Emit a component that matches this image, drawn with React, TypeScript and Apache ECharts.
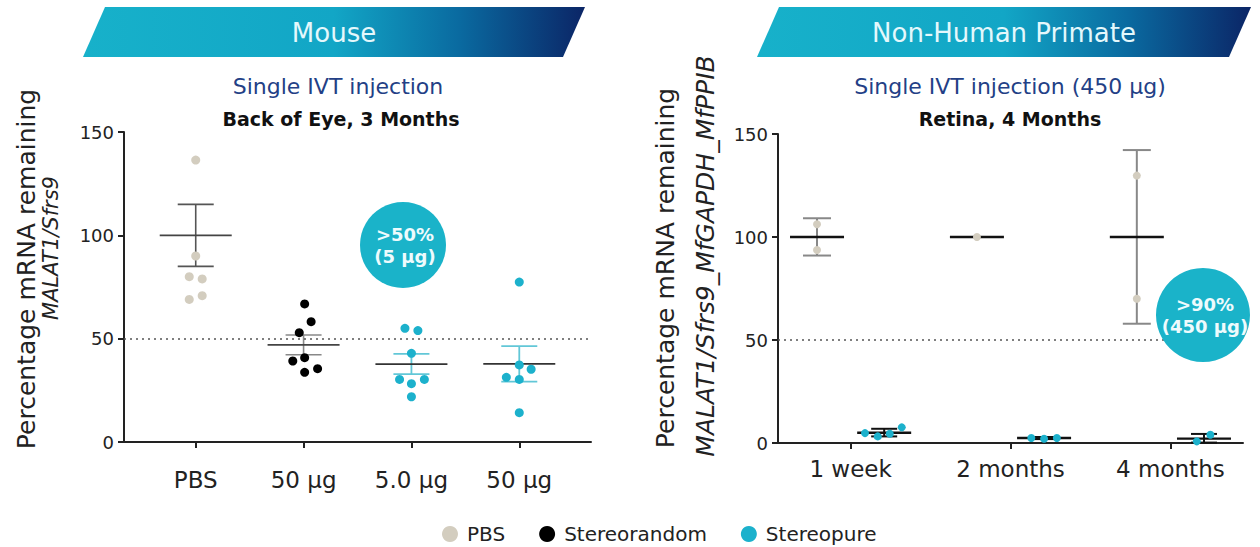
import React, { useEffect, useRef } from "react";
import * as echarts from "echarts";

// ---------- Data ----------
const mouseCategories = ["PBS", "50 μg", "5.0 μg", "50 μg"];
const nhpCategories = ["1 week", "2 months", "4 months"];
const yTicks = [0, 50, 100, 150];
const legendNames = ["PBS", "Stereorandom", "Stereopure"];

// Mouse individual points: [category position (with jitter), % remaining]
const mousePbsPoints = [
  [1.0, 136.4], [1.0, 90.0], [0.94, 80.0], [1.06, 78.9], [0.94, 69.0], [1.06, 70.8],
];
const mouseStereorandomPoints = [
  [2.01, 66.8], [2.07, 58.2], [1.96, 52.9], [1.9, 39.2], [2.01, 40.8], [2.01, 33.7], [2.13, 35.5],
];
const mouseStereopurePoints = [
  [2.94, 55.0], [3.06, 53.9], [3.0, 42.9], [2.89, 30.3], [3.0, 28.2], [3.12, 30.3], [3.0, 21.9],
  [4.0, 77.4], [4.0, 37.3], [4.11, 35.2], [3.88, 31.3], [4.0, 30.3], [4.0, 14.2],
];
// Mouse summaries: [position, mean, mean - SEM, mean + SEM]
const mousePbsSummary = [[1, 100, 85, 115]];
const mouseStereorandomSummary = [[2, 47, 42.2, 51.8]];
const mouseStereopureSummary = [[3, 37.7, 32.8, 42.6], [4, 37.8, 29.2, 46.4]];

// NHP individual points
const nhpPbsPoints = [
  [0.79, 106.2], [0.79, 93.7], [1.79, 100], [2.79, 129.8], [2.79, 70.0],
];
const nhpStereopurePoints = [
  [1.09, 4.8], [1.17, 3.2], [1.245, 4.5], [1.32, 7.6],
  [2.13, 2.4], [2.21, 2.1], [2.29, 2.4],
  [3.165, 0.8], [3.25, 4.0],
];
const nhpPbsSummary = [[0.79, 100, 91, 109.1], [1.79, 100, 100, 100], [2.79, 100, 57.9, 142.2]];
const nhpStereopureSummary = [[1.21, 5.0, 3.2, 6.9], [2.21, 2.4, 1.9, 2.9], [3.21, 2.1, 0.2, 4.4]];

const refLine = 50;

// ---------- Styles ----------
const FONT = "DejaVu Sans";
const C_PBS = "#d3cdbf";
const C_RANDOM = "#000000";
const C_PURE = "#1cb1cc";
const legendColors: Record<string, string> = { PBS: C_PBS, Stereorandom: C_RANDOM, Stereopure: C_PURE };

function summarySeries(
  name: string,
  data: number[][],
  gridIndex: number,
  meanColor: string,
  errColor: string,
  meanHW: number,
  capHW: number,
  meanW: number,
  errW: number,
  extra: any = {}
) {
  return {
    type: "custom",
    name,
    xAxisIndex: gridIndex,
    yAxisIndex: gridIndex,
    data,
    encode: { x: 0, y: [1, 2, 3] },
    z: 2,
    silent: true,
    itemStyle: { color: legendColors[name] },
    renderItem: (params: any, api: any) => {
      const x = api.value(0);
      const m = api.value(1);
      const lo = api.value(2);
      const hi = api.value(3);
      const pm = api.coord([x, m]);
      const plo = api.coord([x, lo]);
      const phi = api.coord([x, hi]);
      const children: any[] = [];
      if (hi !== lo) {
        children.push(
          { type: "line", shape: { x1: pm[0], y1: plo[1], x2: pm[0], y2: phi[1] }, style: { stroke: errColor, lineWidth: errW } },
          { type: "line", shape: { x1: pm[0] - capHW, y1: plo[1], x2: pm[0] + capHW, y2: plo[1] }, style: { stroke: errColor, lineWidth: errW } },
          { type: "line", shape: { x1: pm[0] - capHW, y1: phi[1], x2: pm[0] + capHW, y2: phi[1] }, style: { stroke: errColor, lineWidth: errW } }
        );
      }
      children.push({
        type: "line",
        shape: { x1: pm[0] - meanHW, y1: pm[1], x2: pm[0] + meanHW, y2: pm[1] },
        style: { stroke: meanColor, lineWidth: meanW },
      });
      return { type: "group", children };
    },
    ...extra,
  };
}

function scatterSeries(name: string, data: number[][], gridIndex: number, color: string, size: number) {
  return {
    type: "scatter",
    name,
    xAxisIndex: gridIndex,
    yAxisIndex: gridIndex,
    data,
    symbol: "circle",
    symbolSize: size,
    itemStyle: { color, opacity: 1 },
    z: 5,
    silent: true,
  };
}

const refMarkLine = {
  silent: true,
  symbol: ["none", "none"],
  label: { show: false },
  lineStyle: { type: [2, 4], color: "#555", width: 1.6 },
  data: [{ yAxis: refLine }],
};

function yAxisOpt(gridIndex: number) {
  return {
    type: "value",
    gridIndex,
    min: 0,
    max: 150,
    interval: 50,
    axisLine: { show: true, lineStyle: { color: "#222", width: 2 } },
    axisTick: { show: true, length: 6, lineStyle: { color: "#222", width: 2 } },
    axisLabel: { fontSize: 18, color: "#222", fontFamily: FONT, margin: 10, customValues: yTicks },
    splitLine: { show: false },
  };
}

function xAxisOpt(gridIndex: number, min: number, max: number, cats: string[], margin: number) {
  const ticks = cats.map((_, i) => i + 1);
  return {
    type: "value",
    gridIndex,
    min,
    max,
    axisLine: { show: true, onZero: false, lineStyle: { color: "#222", width: 2 } },
    axisTick: { show: true, length: 6, customValues: ticks, lineStyle: { color: "#222", width: 2 } },
    axisLabel: {
      customValues: ticks,
      formatter: (v: number) => cats[Math.round(v) - 1] ?? "",
      fontSize: 23,
      color: "#222",
      fontFamily: FONT,
      margin,
    },
    splitLine: { show: false },
  };
}

function banner(x0: number, x1: number, slant: number, label: string) {
  return [
    {
      type: "polygon",
      z: 100,
      shape: { points: [[x0 + slant, 7], [x1, 7], [x1 - slant, 57], [x0, 57]] },
      style: {
        fill: new echarts.graphic.LinearGradient(0, 0, 1, 0, [
          { offset: 0, color: "#17b1ca" },
          { offset: 0.5, color: "#12a6c6" },
          { offset: 0.75, color: "#0a6aa0" },
          { offset: 1, color: "#0b2566" },
        ]),
      },
    },
    {
      type: "text",
      z: 101,
      x: (x0 + x1) / 2,
      y: 33,
      style: { text: label, fill: "#e4f8fc", fontSize: 26, fontFamily: FONT, align: "center", verticalAlign: "middle" },
    },
  ];
}

function txt(x: number, y: number, text: string, style: any, rotation = 0) {
  return {
    type: "text",
    z: 101,
    x,
    y,
    rotation,
    style: { text, fontFamily: FONT, align: "center", verticalAlign: "middle", ...style },
  };
}

function bubble(cx: number, cy: number, r: number, l1: string, l2: string) {
  return [
    { type: "circle", z: 100, shape: { cx, cy, r }, style: { fill: "#1ab3c9" } },
    txt(cx + 2, cy - 11, l1, { fill: "#eefbfd", fontSize: 18, fontWeight: "bold" }),
    txt(cx + 2, cy + 11, l2, { fill: "#eefbfd", fontSize: 18, fontWeight: "bold" }),
  ];
}

export default function App() {
  const ref = useRef<HTMLDivElement>(null);
  useEffect(() => {
    if (!ref.current) return;
    const chart = echarts.init(ref.current, undefined, { renderer: "svg" });
    const option: any = {
      animation: false,
      backgroundColor: "#ffffff",
      textStyle: { fontFamily: FONT },
      grid: [
        { left: 124, top: 132, width: 467, height: 310 },
        { left: 778, top: 134, width: 465, height: 309 },
      ],
      xAxis: [
        xAxisOpt(0, 0.335, 4.665, mouseCategories, 26),
        xAxisOpt(1, 0.546, 3.454, nhpCategories, 14),
      ],
      yAxis: [yAxisOpt(0), yAxisOpt(1)],
      legend: {
        data: legendNames.map((n) => ({ name: n, itemStyle: { color: legendColors[n] } })),
        left: 437,
        top: 519,
        icon: "circle",
        itemWidth: 16,
        itemHeight: 16,
        itemGap: 34,
        textStyle: { fontSize: 20, color: "#222", fontFamily: FONT, padding: [0, 0, 0, 4] },
        selectedMode: false,
      },
      series: [
        summarySeries("PBS", mousePbsSummary, 0, "#444", "#555", 36, 18, 1.8, 1.6, { markLine: refMarkLine }),
        summarySeries("Stereorandom", mouseStereorandomSummary, 0, "#444", "#888", 36, 18, 1.8, 1.6),
        summarySeries("Stereopure", mouseStereopureSummary, 0, "#333", "#62c7d7", 36, 18, 1.8, 1.8),
        scatterSeries("PBS", mousePbsPoints, 0, C_PBS, 9),
        scatterSeries("Stereorandom", mouseStereorandomPoints, 0, C_RANDOM, 9),
        scatterSeries("Stereopure", mouseStereopurePoints, 0, C_PURE, 9),
        summarySeries("PBS", nhpPbsSummary, 1, "#111", "#888", 27, 14, 2.4, 2, { markLine: refMarkLine }),
        summarySeries("Stereopure", nhpStereopureSummary, 1, "#111", "#111", 27, 13, 2.4, 2),
        scatterSeries("PBS", nhpPbsPoints, 1, C_PBS, 8),
        scatterSeries("Stereopure", nhpStereopurePoints, 1, C_PURE, 8),
      ],
      graphic: [
        ...banner(83, 585, 22, "Mouse"),
        ...banner(757, 1251, 22, "Non-Human Primate"),
        txt(338, 86, "Single IVT injection", { fill: "#233f86", fontSize: 22 }),
        txt(341, 119, "Back of Eye, 3 Months", { fill: "#111", fontSize: 19, fontWeight: "bold" }),
        txt(1010, 86, "Single IVT injection (450 µg)", { fill: "#233f86", fontSize: 22 }),
        txt(1010, 119, "Retina, 4 Months", { fill: "#111", fontSize: 19, fontWeight: "bold" }),
        txt(26, 269, "Percentage mRNA remaining", { fill: "#222", fontSize: 25 }, Math.PI / 2),
        txt(51, 248, "MALAT1/Sfrs9", { fill: "#222", fontSize: 21, fontStyle: "italic" }, Math.PI / 2),
        txt(665, 268, "Percentage mRNA remaining", { fill: "#222", fontSize: 25 }, Math.PI / 2),
        txt(705, 256, "MALAT1/Sfrs9_MfGAPDH_MfPPIB", { fill: "#222", fontSize: 25, fontStyle: "italic" }, Math.PI / 2),
        ...bubble(403, 245, 43, ">50%", "(5 µg)"),
        ...bubble(1203, 315, 47, ">90%", "(450 µg)"),
      ],
    };
    chart.setOption(option);
    return () => chart.dispose();
  }, []);
  return <div ref={ref} style={{ position: "fixed", left: 0, top: 0, width: 1260, height: 547 }} />;
}
